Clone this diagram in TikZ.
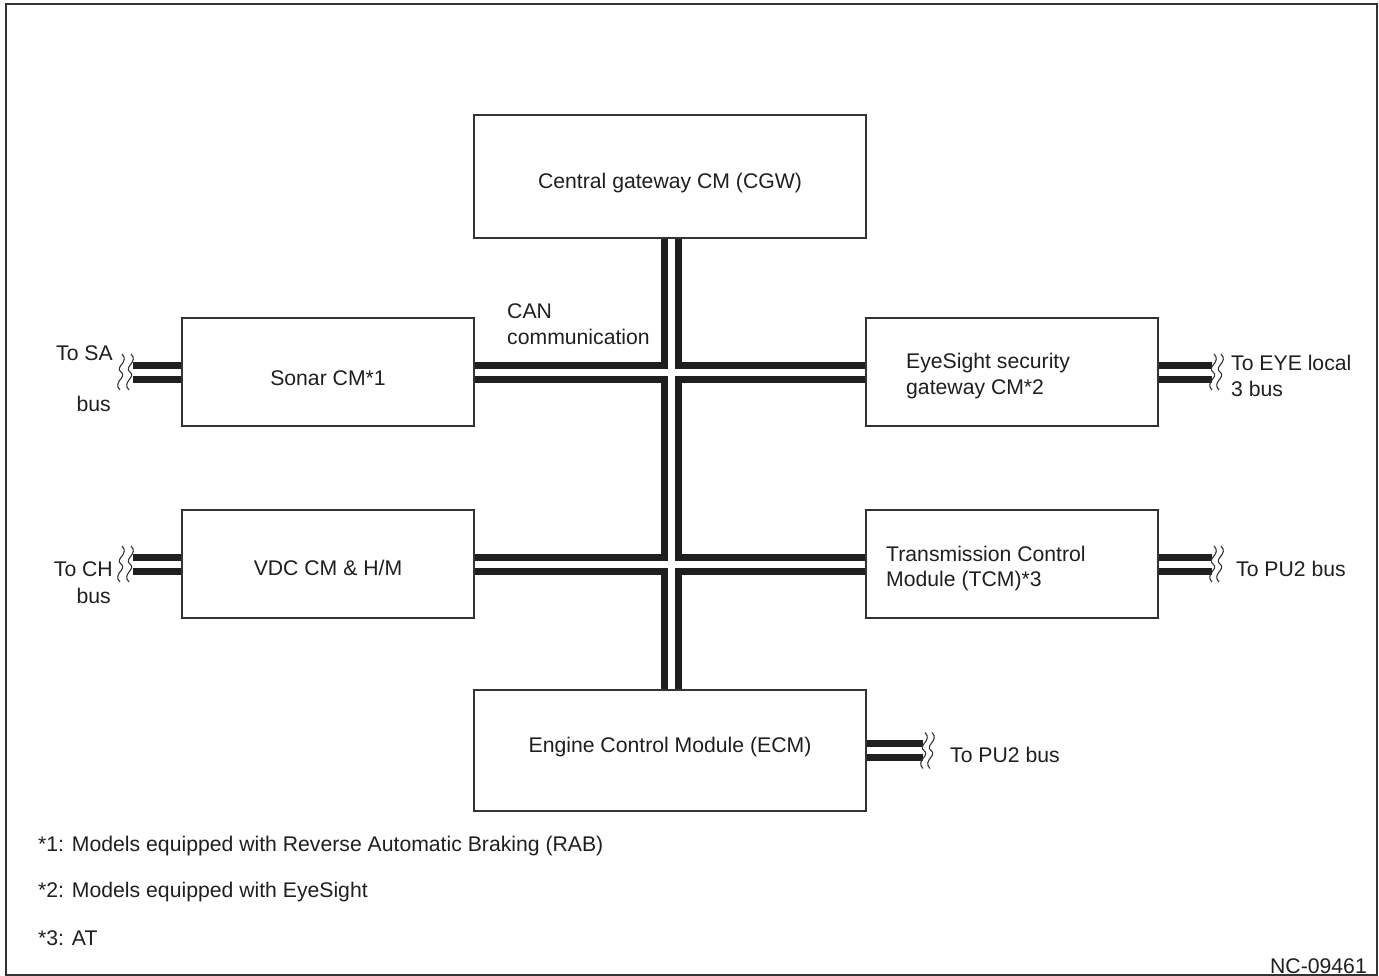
\documentclass[tikz,border=0pt]{standalone}
\usepackage{fontspec}
\setmainfont{Liberation Sans}
\begin{document}
\begin{tikzpicture}[x=1pt,y=-1pt,
  every node/.style={font=\fontsize{21.2}{25.5}\selectfont, text=black!88, inner sep=0pt},
  module/.style={draw=black!80, line width=1.2pt, fill=white},
  busouter/.style={line width=21pt, draw=black!88},
  businner/.style={line width=7pt, draw=white},
  wave/.style={draw=black!80, line width=1.1pt},
  lbl/.style={anchor=west, align=left},
  pics/brk/.style={code={
    \draw[wave] (1,-18) .. controls (9,-10) and (-7,-5) .. (0,0)
                       .. controls (7,5) and (-9,10) .. (-1,18);
    \draw[wave] (#1+1,-18) .. controls (#1+9,-10) and (#1-7,-5) .. (#1,0)
                       .. controls (#1+7,5) and (#1-9,10) .. (#1-1,18);
  }}]
\useasboundingbox (0,0) rectangle (1379,976);
\draw[black!80, line width=2pt] (6,4) rectangle (1377,975);

% control modules
\path (670,176.5) node[module, minimum width=392pt, minimum height=123pt] (cgw) {};
\path (328,372)   node[module, minimum width=292pt, minimum height=108pt] (sonar) {};
\path (328,564)   node[module, minimum width=292pt, minimum height=108pt] (vdc) {};
\path (1012,372)  node[module, minimum width=292pt, minimum height=108pt] (eye) {};
\path (1012,564)  node[module, minimum width=292pt, minimum height=108pt] (tcm) {};
\path (670,750.5) node[module, minimum width=392pt, minimum height=121pt] (ecm) {};

% bus end points
\coordinate (sa)  at (133,372);
\coordinate (ch)  at (133,564);
\coordinate (eyeb) at (1212,372);
\coordinate (pua) at (1212,564);
\coordinate (pub) at (923,750.5);
\coordinate (vtop) at (671,238);
\coordinate (vbot) at (671,690);

% CAN bus: black pass, then white gap pass so crossings stay open
\foreach \s in {busouter, businner}{
  \draw[\s] (vtop) -- (vbot);
  \draw[\s] (sonar.east) -- (eye.west);
  \draw[\s] (vdc.east) -- (tcm.west);
  \draw[\s] (sa) -- (sonar.west);
  \draw[\s] (ch) -- (vdc.west);
  \draw[\s] (eye.east) -- (eyeb);
  \draw[\s] (tcm.east) -- (pua);
  \draw[\s] (ecm.east) -- (pub);
}

% redraw module borders over bus ends
\foreach \m in {cgw,sonar,vdc,eye,tcm,ecm}
  \draw[black!80, line width=1.2pt] (\m.north west) rectangle (\m.south east);

% break marks at bus ends
\path (sa) ++(-3,0) pic {brk=-9};
\path (ch) ++(-3,0) pic {brk=-9};
\path (eyeb) ++(1,0) pic {brk=7};
\path (pua) ++(1,0) pic {brk=7};
\path (pub) ++(1,0) pic {brk=7};

% module texts
\node at ([yshift=-7pt]cgw.center) {Central gateway CM (CGW)};
\node at ([yshift=-6pt]sonar.center) {Sonar CM*1};
\node at ([yshift=-4pt]vdc.center) {VDC CM \& H/M};
\node[lbl] at (906,376) {EyeSight security\\gateway CM*2};
\node[lbl] at (886,568.5) {Transmission Control\\Module (TCM)*3};
\node at ([yshift=3pt]ecm.center) {Engine Control Module (ECM)};
\node[lbl] (can) at (507,324) {CAN\\communication};

% bus labels
\node[anchor=east] (tsa) at (113,353) {To SA};
\node[anchor=east] (tsb) at (111,404) {bus};
\node[anchor=east] (tch) at (113,569) {To CH};
\node[anchor=east] (tcb) at (111,596) {bus};
\node[lbl] (teye) at (1231,376) {To EYE local\\3 bus};
\node[lbl] (tpa) at (1236,569) {To PU2 bus};
\node[lbl] (tpb) at (950,755) {To PU2 bus};

% notes
\node[lbl] (n1) at (38,846) {*1: Models equipped with Reverse Automatic Braking (RAB)};
\node[lbl] (n2) at (38,892) {*2: Models equipped with EyeSight};
\node[lbl] (n3) at (38,938) {*3: AT};
\node[anchor=east] (code) at (1367,966) {NC-09461};
\end{tikzpicture}
\end{document}
